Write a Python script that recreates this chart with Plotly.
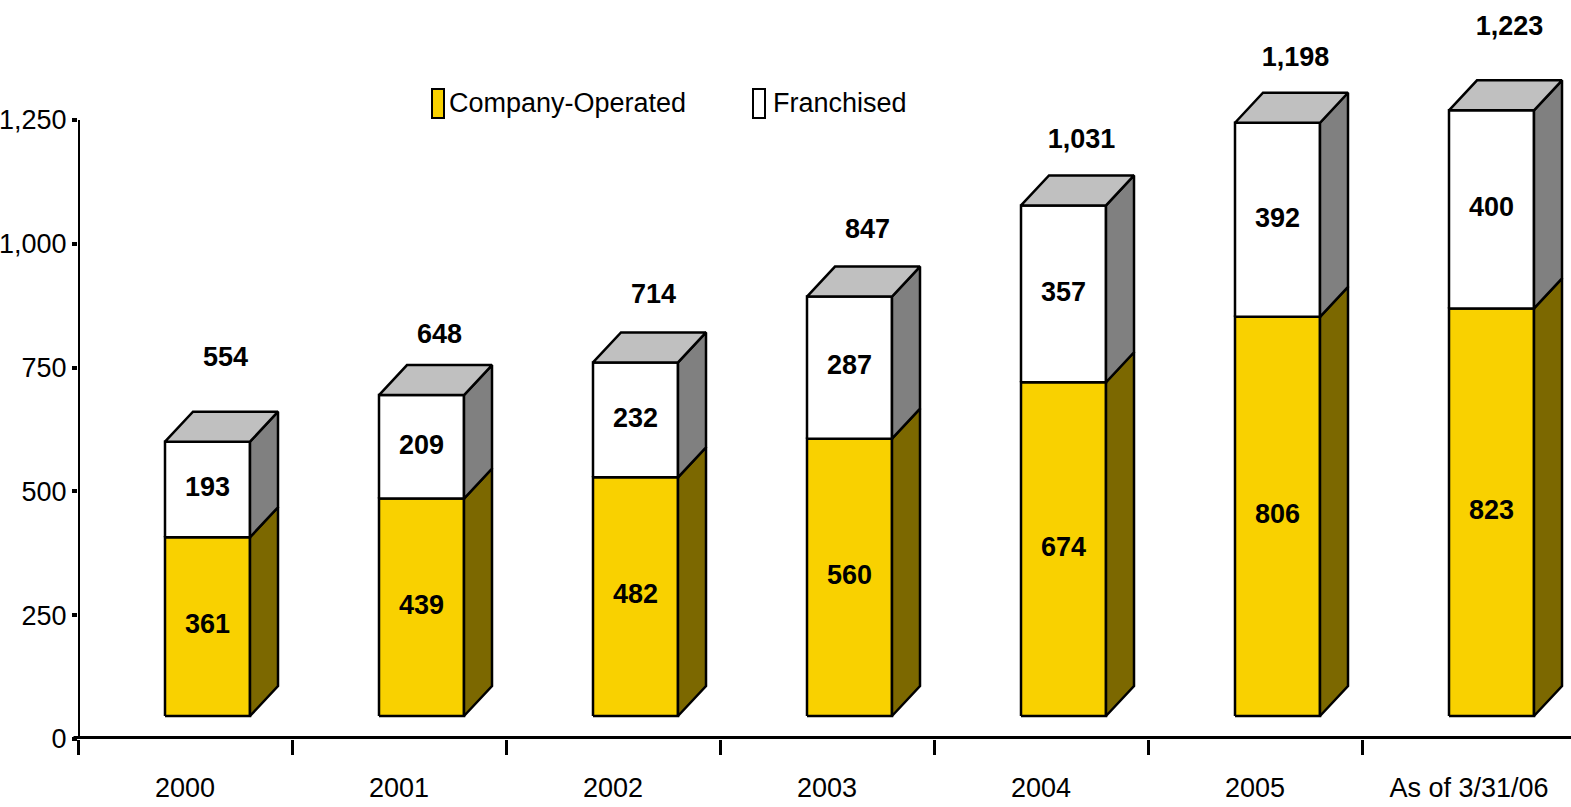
import plotly.graph_objects as go

# ---- data -------------------------------------------------------------
categories = ["2000", "2001", "2002", "2003", "2004", "2005", "As of 3/31/06"]
company_operated = [361, 439, 482, 560, 674, 806, 823]
franchised = [193, 209, 232, 287, 357, 392, 400]
totals = [554, 648, 714, 847, 1031, 1198, 1223]
y_tick_values = [0, 250, 500, 750, 1000, 1250]

# ---- page / axis geometry ----------------------------------------------
W, H = 1571, 807
ML, MB = 78, 68
PLOT_W = W - ML
PLOT_H = H - MB
CAT_PX = 214                 # pixel width of one category slot
PX_PER_UNIT = 619 / 1250     # vertical pixels per store
x_range = [-0.5, -0.5 + PLOT_W / CAT_PX]
y_range = [0, PLOT_H / PX_PER_UNIT]

# pseudo-3D box geometry (in axis units)
FRONT_L = -20 / CAT_PX
FRONT_R = 65 / CAT_PX
DEPTH_X = 28 / CAT_PX
DEPTH_Y = 30 / PX_PER_UNIT
FLOOR = 23 / PX_PER_UNIT
FRONT_MID = (FRONT_L + FRONT_R) / 2

# how far each total label sits above its box front (pixels)
total_label_lift_px = [82, 59, 66, 65, 64, 64, 82]

YELLOW = "#F9D100"
OLIVE = "#7C6800"
TOP_GRAY = "#C0C0C0"
SIDE_GRAY = "#808080"
FONT = "Liberation Sans Narrow, Arial Narrow, Liberation Sans, Arial, sans-serif"
LABEL_SIZE = 27
TICK_SIZE = 27


def front(i, lo, hi):
    a, b = i + FRONT_L, i + FRONT_R
    return [a, b, b, a, a, None], [lo, lo, hi, hi, lo, None]


def side(i, lo, hi):
    a = i + FRONT_R
    b = a + DEPTH_X
    return [a, b, b, a, a, None], [lo, lo + DEPTH_Y, hi + DEPTH_Y, hi, lo, None]


def top(i, h):
    a, b = i + FRONT_L, i + FRONT_R
    return ([a, b, b + DEPTH_X, a + DEPTH_X, a, None],
            [h, h, h + DEPTH_Y, h + DEPTH_Y, h, None])


def collect(fn, *cols):
    xs, ys = [], []
    for i, args in enumerate(zip(*cols)):
        px, py = fn(i, *args)
        xs += px
        ys += py
    return xs, ys


co_lo = [FLOOR] * len(categories)
co_hi = [FLOOR + c for c in company_operated]
fr_hi = [h + f for h, f in zip(co_hi, franchised)]

faces = [
    (collect(front, co_lo, co_hi), YELLOW),
    (collect(side, co_lo, co_hi), OLIVE),
    (collect(front, co_hi, fr_hi), "#FFFFFF"),
    (collect(side, co_hi, fr_hi), SIDE_GRAY),
    (collect(top, fr_hi), TOP_GRAY),
]

fig = go.Figure()
for (xs, ys), color in faces:
    fig.add_trace(go.Scatter(
        x=xs, y=ys, mode="lines", fill="toself", fillcolor=color,
        line=dict(color="black", width=2.5), hoverinfo="skip",
        showlegend=False,
    ))

idx = list(range(len(categories)))

# value labels inside each segment
fig.add_trace(go.Scatter(
    x=[i + FRONT_MID for i in idx] * 2,
    y=[FLOOR + c / 2 for c in company_operated]
      + [h + f / 2 for h, f in zip(co_hi, franchised)],
    text=[f"{v:,}" for v in company_operated + franchised],
    mode="text", textposition="middle center",
    textfont=dict(family=FONT, size=LABEL_SIZE, color="black", weight="bold"),
    hoverinfo="skip", showlegend=False, cliponaxis=False,
))

# totals above the boxes
fig.add_trace(go.Scatter(
    x=[i + FRONT_MID + 18 / CAT_PX for i in idx],
    y=[h + lift / PX_PER_UNIT for h, lift in zip(fr_hi, total_label_lift_px)],
    text=[f"{v:,}" for v in totals],
    mode="text", textposition="middle center",
    textfont=dict(family=FONT, size=LABEL_SIZE, color="black", weight="bold"),
    hoverinfo="skip", showlegend=False, cliponaxis=False,
))

# dummy trace so the tick-mark axis is drawn
fig.add_trace(go.Scatter(x=[None], y=[None], xaxis="x2", showlegend=False))


def px_x(p):
    return (p - ML) / PLOT_W


def px_y(p):
    return (PLOT_H - p) / PLOT_H


shapes = [
    # axis lines
    dict(type="line", xref="x", yref="y", x0=x_range[0], x1=x_range[0],
         y0=0, y1=1250, line=dict(color="black", width=4)),
    dict(type="line", xref="paper", yref="y", x0=-0.003, x1=1,
         y0=0, y1=0, line=dict(color="black", width=6)),
    # legend swatches
    dict(type="rect", xref="paper", yref="paper",
         x0=px_x(432), x1=px_x(444), y0=px_y(118), y1=px_y(89),
         fillcolor=YELLOW, line=dict(color="black", width=2)),
    dict(type="rect", xref="paper", yref="paper",
         x0=px_x(753), x1=px_x(765), y0=px_y(118), y1=px_y(89),
         fillcolor="#FFFFFF", line=dict(color="black", width=2)),
]

annotations = [
    dict(xref="paper", yref="paper", x=px_x(447), y=px_y(103),
         text="Company-Operated", showarrow=False, xanchor="left",
         yanchor="middle", font=dict(family=FONT, size=27, color="black")),
    dict(xref="paper", yref="paper", x=px_x(771), y=px_y(103),
         text="Franchised", showarrow=False, xanchor="left",
         yanchor="middle", font=dict(family=FONT, size=27, color="black")),
]

fig.update_layout(
    width=W, height=H,
    margin=dict(l=ML, r=0, t=0, b=MB, pad=0, autoexpand=False),
    paper_bgcolor="white", plot_bgcolor="white",
    shapes=shapes, annotations=annotations,
    xaxis=dict(
        range=x_range, tickvals=idx, ticktext=categories,
        showgrid=False, zeroline=False, showline=False, ticks="",
        ticklabelstandoff=30, automargin=False,
        tickfont=dict(family=FONT, size=TICK_SIZE, color="black"),
        fixedrange=True,
    ),
    xaxis2=dict(
        range=x_range, overlaying="x", anchor="y", side="bottom",
        tickvals=[i - 0.5 for i in idx], ticks="outside", ticklen=15,
        tickwidth=3, tickcolor="black", showticklabels=False,
        showgrid=False, zeroline=False, showline=False, automargin=False,
    ),
    yaxis=dict(
        range=y_range, tickvals=y_tick_values, tickformat=",",
        ticks="outside", ticklen=5, tickwidth=4, tickcolor="black",
        showgrid=False, zeroline=False, showline=False, automargin=False,
        tickfont=dict(family=FONT, size=TICK_SIZE, color="black"),
        fixedrange=True,
    ),
    showlegend=False,
)

fig.write_html("out.html")
